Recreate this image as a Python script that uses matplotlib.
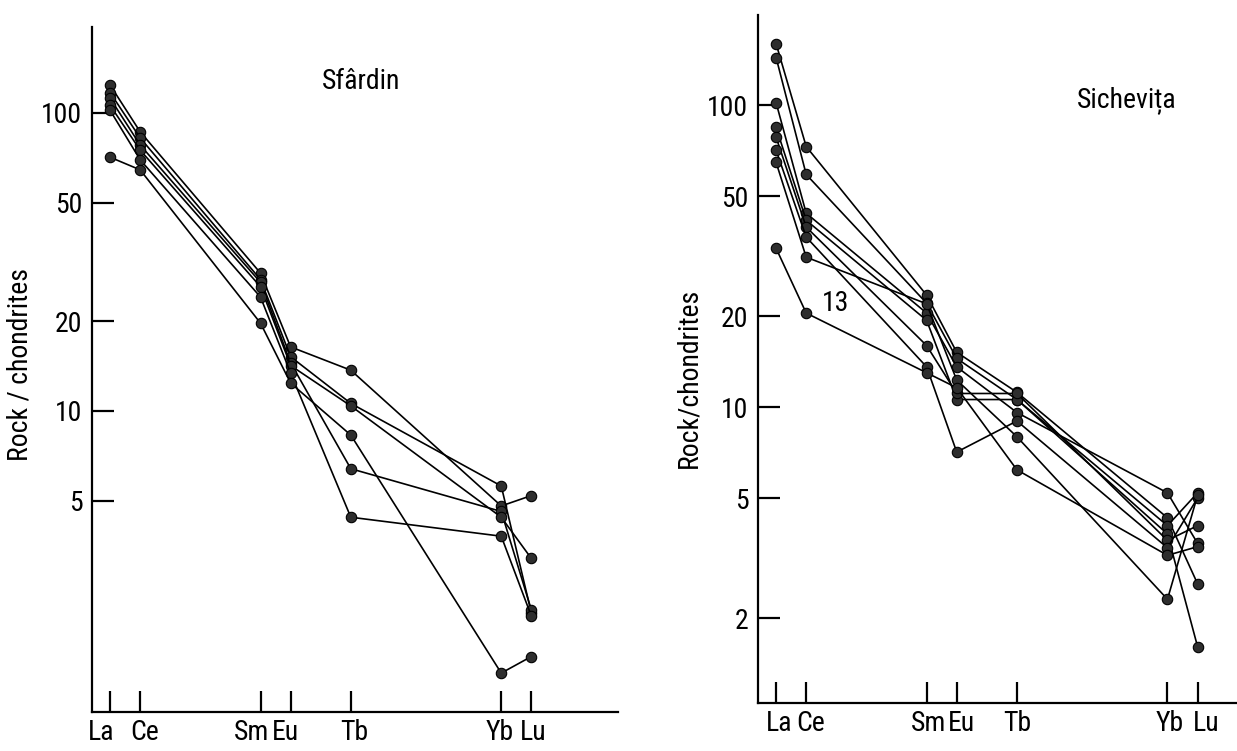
import numpy as np
import matplotlib
matplotlib.use('Agg')
import matplotlib.pyplot as plt
import matplotlib.transforms as mtransforms
from matplotlib import font_manager

################################################################################
# REE data, normalised to chondrites
elements = ['La', 'Ce', 'Sm', 'Eu', 'Tb', 'Yb', 'Lu']
atomic_z = [57, 58, 62, 63, 65, 70, 71]

# Sfardin samples (La, Ce, Sm, Eu, Tb, Yb, Lu)
sfardin_a = [124, 86.4, 29.0, 16.4, 13.7, 4.8, 5.2]
sfardin_b = [117, 82.4, 27.6, 15.2, 10.6, 5.6, 2.1]
sfardin_c = [112, 78.0, 27.0, 14.5, 6.4, 4.6, 2.15]
sfardin_d = [106, 75.0, 26.1, 14.2, 10.4, 4.4, 3.2]
sfardin_e = [102, 69.6, 24.1, 13.4, 4.4, 3.8, 2.05]
sfardin_f = [71, 64.4, 19.7, 12.4, 8.3, 1.32, 1.5]
sfardin = [sfardin_a, sfardin_b, sfardin_c, sfardin_d, sfardin_e, sfardin_f]

# Sichevita samples
sich_1 = [160, 73.0, 23.5, 15.2, 11.2, 4.3, 2.6]
sich_2 = [144, 59.0, 22.1, 14.5, 10.6, 4.05, 5.2]
sich_3 = [102, 43.9, 20.5, 13.6, 9.6, 5.2, 3.54]
sich_4 = [84.5, 41.6, 19.4, 10.6, 10.6, 3.8, 1.61]
sich_5 = [78.4, 39.5, 16.0, 11.1, 11.1, 3.62, 4.05]
sich_6 = [71, 36.6, 13.6, 7.1, 9.0, 3.42, 5.0]
sich_7 = [64.7, 31.4, 22.0, 12.3, 7.98, 2.31, 5.1]
sich_13 = [33.6, 20.5, 13.0, 11.6, 6.2, 3.23, 3.45]
sichevita = [sich_1, sich_2, sich_3, sich_4, sich_5, sich_6, sich_7, sich_13]

left_yticks = [5, 10, 20, 50, 100]
right_yticks = [2, 5, 10, 20, 50, 100]


################################################################################
# narrow lettering, like the stencil font of the original
def pick_narrow_font():
    prefs = ['Roboto Condensed', 'Liberation Sans Narrow', 'DejaVu Sans',
             'Noto Sans', 'Open Sans']
    found = []
    for f in font_manager.fontManager.ttflist:
        narrow = ('condensed' in str(f.stretch).lower() or 'Narrow' in f.name
                  or 'Condensed' in f.name)
        if narrow and f.style == 'normal' and f.weight in (400, 'normal', 'regular'):
            found.append(f)
    for p in prefs:
        for f in found:
            if f.name == p:
                return f
    if found:
        return found[0]
    return None


nf = pick_narrow_font()
if nf is not None:
    plt.rcParams['font.family'] = [nf.name, 'DejaVu Sans']
    plt.rcParams['font.stretch'] = nf.stretch
    fs = 20
else:
    plt.rcParams['font.family'] = ['DejaVu Sans']
    fs = 17


def setup(ax, yticks, xlim, ylim, xshift):
    ax.set_yscale('log')
    ax.set_xlim(*xlim)
    ax.set_ylim(*ylim)
    for s in ['top', 'right']:
        ax.spines[s].set_visible(False)
    for s in ['left', 'bottom']:
        ax.spines[s].set_linewidth(1.6)
    ax.set_yticks(yticks)
    ax.set_yticklabels([str(t) for t in yticks])
    ax.yaxis.set_minor_locator(matplotlib.ticker.NullLocator())
    ax.set_xticks(atomic_z)
    ax.set_xticklabels(elements)
    ax.tick_params(axis='y', direction='in', length=16, width=1.6, pad=7, labelsize=fs)
    ax.tick_params(axis='x', direction='in', length=15, width=1.6, pad=5, labelsize=fs)
    # hand lettering sits a little off the ticks
    for lab, dx in zip(ax.get_xticklabels(), xshift):
        off = mtransforms.ScaledTranslation(dx / 100.0, 0, ax.figure.dpi_scale_trans)
        lab.set_transform(lab.get_transform() + off)


def draw(ax, samples):
    for s in samples:
        ax.plot(atomic_z, s, '-', color='k', lw=1.2,
                marker='o', markersize=7.5, markerfacecolor='#2e2e2e',
                markeredgecolor='k', markeredgewidth=0.8)


fig = plt.figure(figsize=(12.37, 7.51), dpi=100)

ax1 = fig.add_axes([0.0744, 0.0519, 0.4252, 0.912])
setup(ax1, left_yticks, (56.4, 73.88), (0.977, 194), [-9, 4, -9, -5, 3, -2, 2])
draw(ax1, sfardin)
ax1.text(0.437, 0.92, 'Sfârdin', transform=ax1.transAxes, fontsize=fs,
         ha='left', va='center')
ax1.set_ylabel('Rock / chondrites', fontsize=fs)
ax1.yaxis.set_label_coords(-0.112, 0.507)

ax2 = fig.add_axes([0.6128, 0.0639, 0.3872, 0.916])
setup(ax2, right_yticks, (56.4, 72.31), (1.047, 199), [3, 4, 2, 5, 0, 2, 9])
draw(ax2, sichevita)
ax2.text(0.666, 0.876, 'Sichevița', transform=ax2.transAxes, fontsize=fs,
         ha='left', va='center')
ax2.text(58.53, 22.1, '13', fontsize=fs, ha='left', va='center')
ax2.set_ylabel('Rock/chondrites', fontsize=fs)
ax2.yaxis.set_label_coords(-0.117, 0.472)

fig.savefig('out.png', dpi=100)
